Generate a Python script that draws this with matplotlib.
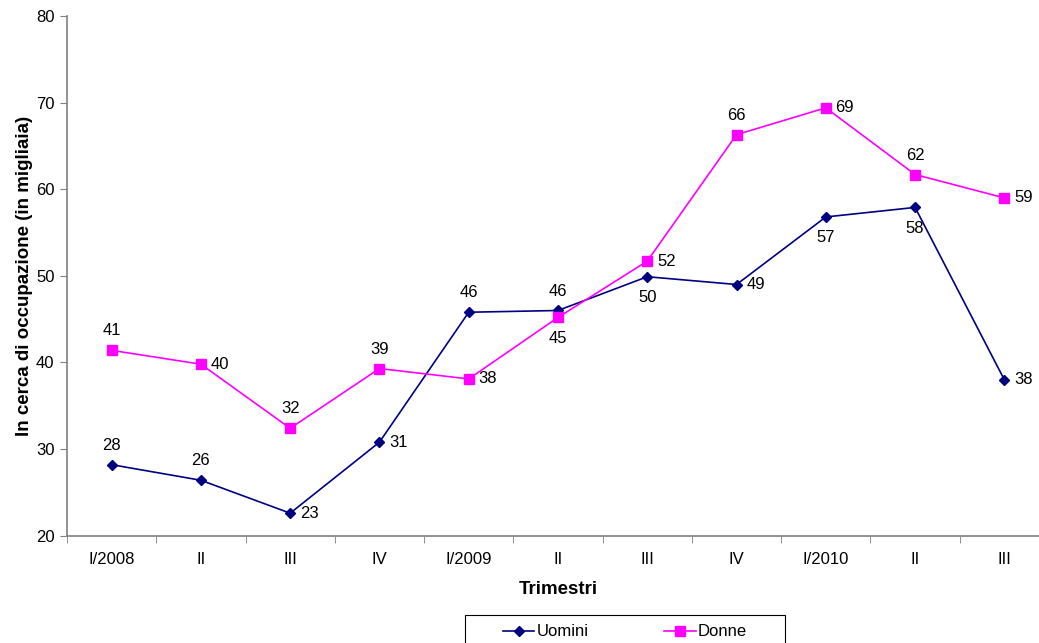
import numpy as np
import matplotlib
matplotlib.use('Agg')
import matplotlib.pyplot as plt
from matplotlib.patches import Rectangle

trimestri = ['I/2008', 'II', 'III', 'IV', 'I/2009', 'II', 'III', 'IV', 'I/2010', 'II', 'III']
uomini = [28.2, 26.4, 22.6, 30.8, 45.8, 46.0, 49.9, 49.0, 56.8, 57.9, 38.0]
donne = [41.4, 39.8, 32.4, 39.3, 38.1, 45.2, 51.7, 66.3, 69.4, 61.7, 59.0]

# where each data label sits relative to its point
pos_uomini = ['above', 'above', 'right', 'right', 'above', 'above', 'below', 'right', 'below', 'below', 'right']
pos_donne = ['above', 'right', 'above', 'above', 'right', 'below', 'right', 'above', 'right', 'above', 'right']

plt.rcParams['font.family'] = ['Liberation Sans', 'DejaVu Sans']
fs = 12
fs_title = 13.5

W, H = 1039, 643
fig = plt.figure(figsize=(W / 100, H / 100), dpi=100)
ax = fig.add_axes([67 / W, 1 - 535.7 / H, 982 / W, 519.7 / H])

x = np.arange(len(trimestri))
ax.plot(x, uomini, color='#000080', marker='D', markersize=5, lw=1.2, label='Uomini')
ax.plot(x, donne, color='#FF00FF', marker='s', markersize=7, lw=1.2, label='Donne')


def add_labels(vals, where):
    offsets = {'above': (0, 14, 'center', 'center'),
               'right': (7, 0, 'left', 'center'),
               'below': (0, -15, 'center', 'center')}
    for xi, v, w in zip(x, vals, where):
        dx, dy, ha, va = offsets[w]
        ax.annotate(f'{v:.0f}', (xi, v), xytext=(dx, dy), textcoords='offset points',
                    ha=ha, va=va, fontsize=fs, color='black')


add_labels(uomini, pos_uomini)
add_labels(donne, pos_donne)

ax.set_xlim(-0.5, len(trimestri) - 0.5)
ax.set_ylim(20, 80)
ax.set_yticks(np.arange(20, 81, 10))
ax.set_xticks(x)
ax.set_xticklabels(trimestri, fontsize=fs)
ax.set_yticklabels([str(v) for v in range(20, 81, 10)], fontsize=fs)
ax.set_xticks(np.arange(-0.5, len(trimestri)), minor=True)
ax.tick_params(axis='x', which='major', length=0, pad=12)
ax.tick_params(axis='x', which='minor', length=5, color='#808080', direction='out')
ax.tick_params(axis='y', length=5, color='#808080', direction='out', pad=4)

for s in ['top', 'right']:
    ax.spines[s].set_visible(False)
for s in ['left', 'bottom']:
    ax.spines[s].set_color('#808080')
    ax.spines[s].set_linewidth(1.2)

ax.set_xlabel('Trimestri', fontweight='bold', fontsize=fs_title, labelpad=10)
ax.set_ylabel('In cerca di occupazione (in migliaia)', fontweight='bold', fontsize=fs_title, labelpad=2)

# legend box (runs off the bottom edge like in the original)
fig.patches.append(Rectangle((465 / W, -0.05), 320 / W, 0.05 + 28 / H,
                             transform=fig.transFigure, fill=False,
                             edgecolor='black', lw=0.8))
fig.legend(loc='center', bbox_to_anchor=(625 / W, 1 - 632 / H), ncol=2,
           frameon=False, handlelength=1.9, handletextpad=0.15, columnspacing=4.5,
           borderpad=0, borderaxespad=0, fontsize=fs)

fig.savefig('out.png', dpi=100)
